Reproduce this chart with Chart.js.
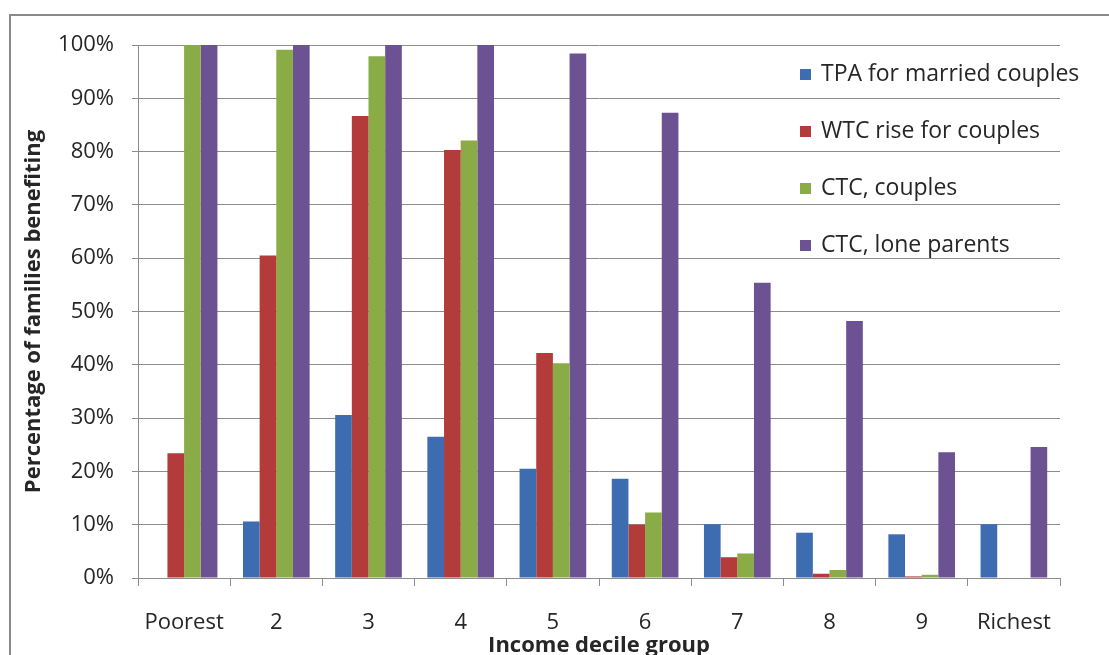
<!DOCTYPE html>
<html>
<head>
<meta charset="utf-8">
<script src="https://cdn.jsdelivr.net/npm/chart.js@4/dist/chart.umd.min.js"></script>
<style>
html,body{margin:0;padding:0;background:#fff;}
#wrap{width:1109px;height:655px;}
</style>
</head>
<body>
<div id="wrap"><canvas id="c" width="1109" height="655"></canvas></div>
<script>
const categories = ['Poorest','2','3','4','5','6','7','8','9','Richest'];
const tpaMarried   = [0, 10.6, 30.6, 26.5, 20.5, 18.6, 10.1, 8.5, 8.2, 10.1];
const wtcCouples   = [23.4, 60.5, 86.7, 80.3, 42.2, 10.0, 3.9, 0.8, 0.3, 0];
const ctcCouples   = [100, 99.1, 97.9, 82.1, 40.3, 12.3, 4.6, 1.5, 0.6, 0];
const ctcLone      = [100, 100, 100, 100, 98.4, 87.3, 55.4, 48.2, 23.6, 24.6];
const seriesNames  = ['TPA for married couples','WTC rise for couples','CTC, couples','CTC, lone parents'];
const seriesColors = ['#3D6DB0','#B33B3A','#89AC46','#6C5193'];
const yTicks = [0,10,20,30,40,50,60,70,80,90,100];

const FONT = "'Open Sans', 'DejaVu Sans', sans-serif";
const TEXT = '#262626';
const GRID = '#8c8c8c';

const framePlugin = {
  id: 'frame',
  beforeDraw(chart) {
    const ctx = chart.ctx;
    ctx.save();
    ctx.fillStyle = '#fff';
    ctx.fillRect(0, 0, chart.width, chart.height);
    ctx.strokeStyle = '#8a8a8a';
    ctx.lineWidth = 2;
    ctx.beginPath();
    ctx.moveTo(10, chart.height);
    ctx.lineTo(10, 15);
    ctx.lineTo(chart.width, 15);
    ctx.stroke();
    ctx.restore();
  }
};

const legendPlugin = {
  id: 'sideLegend',
  afterDraw(chart) {
    const ctx = chart.ctx;
    ctx.save();
    ctx.font = "23px " + FONT;
    ctx.textBaseline = 'middle';
    ctx.textAlign = 'left';
    chart.data.datasets.forEach((ds, i) => {
      const y = 74 + 57 * i;
      ctx.fillStyle = ds.backgroundColor;
      ctx.fillRect(800, y - 5, 11, 11);
      ctx.fillStyle = TEXT;
      ctx.fillText(ds.label, 821, y);
    });
    ctx.restore();
  }
};

const datasets = [tpaMarried, wtcCouples, ctcCouples, ctcLone].map((d, i) => ({
  label: seriesNames[i],
  data: d,
  backgroundColor: seriesColors[i],
  borderWidth: 0,
  barPercentage: 1.0,
  categoryPercentage: 0.723
}));

new Chart(document.getElementById('c'), {
  type: 'bar',
  data: { labels: categories, datasets },
  options: {
    responsive: false,
    animation: false,
    devicePixelRatio: 1,
    layout: { padding: { left: 10, right: 49, top: 45, bottom: 0 } },
    plugins: { legend: { display: false }, tooltip: { enabled: false } },
    scales: {
      x: {
        afterFit(s) { s.height = 77; },
        grid: { drawOnChartArea: false, drawTicks: true, tickLength: 8, color: GRID, offset: true },
        border: { color: GRID, width: 1 },
        ticks: { color: TEXT, font: { family: FONT, size: 22 }, padding: 24, maxRotation: 0, autoSkip: false },
        title: { display: true, text: 'Income decile group', color: TEXT,
                 font: { family: FONT, size: 22, weight: 'bold', lineHeight: 1 }, padding: { top: 0, bottom: -2 } }
      },
      y: {
        min: 0, max: 100,
        afterFit(s) { s.width = 128; },
        afterBuildTicks(s) { s.ticks = yTicks.map(v => ({ value: v })); },
        grid: { color: GRID, tickLength: 6, drawTicks: true },
        border: { color: GRID, width: 1 },
        ticks: { color: TEXT, font: { family: FONT, size: 22 }, padding: 18, callback: v => v + '%' },
        title: { display: true, text: 'Percentage of families benefiting', color: TEXT,
                 font: { family: FONT, size: 22, weight: 'bold', lineHeight: 1 }, padding: { top: 13, bottom: 0 } }
      }
    }
  },
  plugins: [framePlugin, legendPlugin]
});
</script>
</body>
</html>
